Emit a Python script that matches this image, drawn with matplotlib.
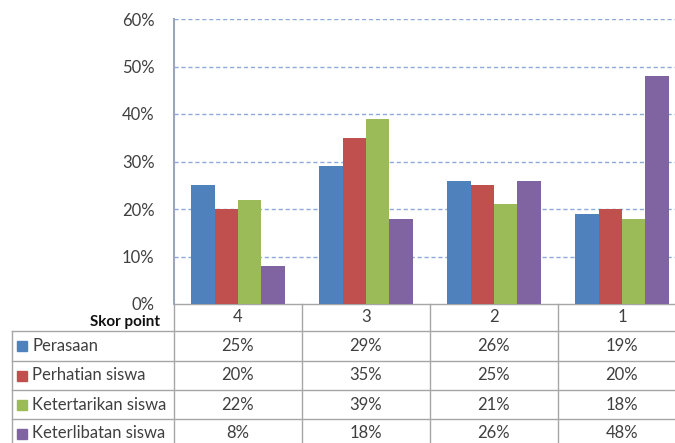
import numpy as np
import matplotlib.pyplot as plt
from matplotlib.transforms import blended_transform_factory

plt.rcParams['font.family'] = ['Lato', 'DejaVu Sans']

categories = ["4", "3", "2", "1"]
series_names = ["Perasaan", "Perhatian siswa", "Ketertarikan siswa", "Keterlibatan siswa"]
perasaan = [25, 29, 26, 19]
perhatian = [20, 35, 25, 20]
ketertarikan = [22, 39, 21, 18]
keterlibatan = [8, 18, 26, 48]
series_values = [perasaan, perhatian, ketertarikan, keterlibatan]
colors = ["#4F81BD", "#C0504D", "#9BBB59", "#8064A2"]
yticks = [0, 10, 20, 30, 40, 50, 60]

W, H = 675, 443
fig = plt.figure(figsize=(W / 100, H / 100), dpi=100)
# plot area: x 174..686 px, y 19..304 px
ax = fig.add_axes([174 / W, (H - 304) / H, 512 / W, 285 / H])

x = np.arange(len(categories))
bw = 1 / 5.5
for i, vals in enumerate(series_values):
    ax.bar(x + (i - 1.5) * bw, vals, width=bw, color=colors[i], zorder=3)

ax.set_xlim(-0.5, 3.5)
ax.set_ylim(0, 60)
ax.set_yticks(yticks)
ax.set_yticklabels([f"{t}%" for t in yticks], fontsize=12, color="#404040")
ax.set_xticks([])
ax.tick_params(axis='y', length=0, pad=14)
for t in yticks[1:]:
    ax.axhline(t, color="#8EAADC", lw=1, ls=(0, (3, 2)), zorder=1)
for s in ["top", "right", "bottom"]:
    ax.spines[s].set_visible(False)
ax.spines["left"].set_color("#9CA6B8")
ax.spines["left"].set_linewidth(1.5)

# data table below the plot
tr = blended_transform_factory(ax.transData, ax.transAxes)
row_px = [304, 331, 361, 390, 419, 448]
row_y = [(304 - p) / 285 for p in row_px]
x_left = -0.5 - (174 - 12) / 128
grid_kw = dict(color="#A6A6A6", lw=1, transform=tr, clip_on=False)

# horizontal lines
ax.plot([-0.5, 3.5], [row_y[0]] * 2, **grid_kw)
for yy in row_y[1:]:
    ax.plot([x_left, 3.5], [yy] * 2, **grid_kw)
# vertical lines
for xx in np.arange(-0.5, 4.0, 1.0):
    ax.plot([xx, xx], [row_y[0], row_y[-1]], **grid_kw)
ax.plot([x_left, x_left], [row_y[1], row_y[-1]], **grid_kw)

# header row
for i, c in enumerate(categories):
    ax.text(i, (row_y[0] + row_y[1]) / 2, c, transform=tr, ha="center", va="center",
            fontsize=12, color="#404040")
ax.text(-0.5 - 14 / 128, (304 - 322) / 285, "Skor point", transform=tr,
        ha="right", va="center", fontsize=11, fontweight="bold", color="#111111")

# series rows
for r, (name, vals) in enumerate(zip(series_names, series_values)):
    yc = (row_y[r + 1] + row_y[r + 2]) / 2
    ax.plot([x_left + 10 / 128], [yc], marker="s", ms=6.5, color=colors[r],
            transform=tr, clip_on=False, ls="none")
    ax.text(x_left + 20 / 128, yc, name, transform=tr, ha="left", va="center",
            fontsize=12, color="#404040")
    for i, v in enumerate(vals):
        ax.text(i, yc, f"{v}%", transform=tr, ha="center", va="center",
                fontsize=12, color="#404040")

fig.savefig("out.png", dpi=100)
